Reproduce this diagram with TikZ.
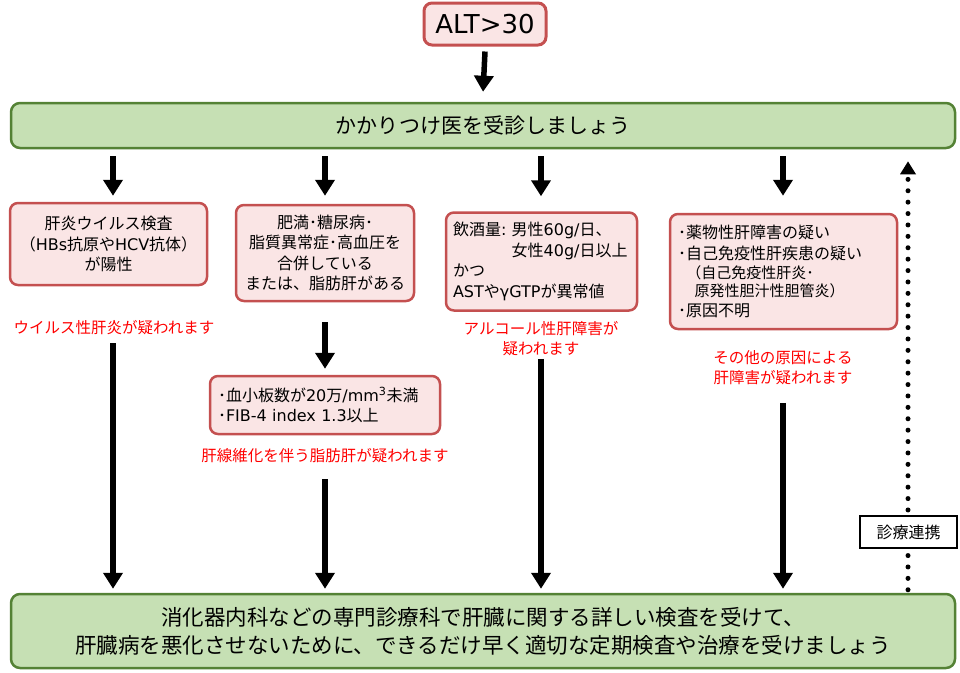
\documentclass[tikz,border=0pt]{standalone}
\usepackage{fontspec}
\setmainfont{Noto Sans CJK JP}
\newfontfamily\latfont{DejaVu Sans}
\newcommand{\lt}[1]{{\latfont #1}}
\usetikzlibrary{arrows.meta,calc}
\definecolor{pinkfill}{RGB}{250,229,229}
\definecolor{pinkline}{RGB}{196,80,80}
\definecolor{greenfill}{RGB}{198,224,180}
\definecolor{greenline}{RGB}{84,130,53}
\definecolor{redtext}{RGB}{255,0,0}
\begin{document}
\begin{tikzpicture}[x=1pt,y=-1pt,
  pinkbox/.style={draw=pinkline,fill=pinkfill,line width=2.5pt,rounded corners=8pt,inner ysep=0pt,inner xsep=7pt,
     font=\fontsize{16}{20.5}\selectfont},
  greenbox/.style={draw=greenline,fill=greenfill,line width=2.5pt,rounded corners=9pt,inner sep=0pt,align=center},
  redlabel/.style={text=redtext,inner sep=0pt,align=center,font=\fontsize{15.5}{20}\selectfont},
  arr/.style={line width=5.5pt,-{Triangle[width=19pt,length=16pt]}},
  dotarr/.style={line width=5pt,line cap=round,dash pattern=on 0pt off 11.4pt,-{Triangle[width=15pt,length=13pt]}},
  linkbox/.style={draw=black,fill=white,line width=1.2pt,inner sep=0pt,minimum width=97pt,minimum height=32pt,
     font=\fontsize{16}{18}\selectfont}
]
\useasboundingbox (0,0) rectangle (960,672);

% column positions
\coordinate (c1) at (113,0);
\coordinate (c2) at (325,0);
\coordinate (c3) at (541,0);
\coordinate (c4) at (783,0);
\coordinate (c5) at (908,0);

% nodes
\node[pinkbox,line width=3pt,minimum width=122pt,minimum height=42pt,align=center,
      font=\latfont\fontsize{26}{30}\selectfont] (alt) at (485,24) {ALT>30};
\node[greenbox,minimum width=944pt,minimum height=45pt,font=\fontsize{21}{24}\selectfont] (top) at (483,125.5)
  {かかりつけ医を受診しましょう};
\node[greenbox,minimum width=944pt,minimum height=74pt,font=\fontsize{21.5}{28}\selectfont] (bottom) at (483,631)
  {消化器内科などの専門診療科で肝臓に関する詳しい検査を受けて、\\
   肝臓病を悪化させないために、できるだけ早く適切な定期検査や治療を受けましょう};

\node[pinkbox,text width=183pt,minimum height=82pt,align=center] (b1) at (108.5,244)
  {肝炎ウイルス検査\\（\lt{HBs}抗原や\lt{HCV}抗体）\\が陽性};
\node[pinkbox,text width=164pt,minimum height=96pt,align=center] (b2) at (325,253)
  {肥満･糖尿病･\\脂質異常症･高血圧を\\合併している\\または、脂肪肝がある};
\node[pinkbox,text width=214pt,inner xsep=8pt,minimum height=58pt,align=left] (b3) at (325,405)
  {･血小板数が\lt{20}万\lt{/mm\textsuperscript{3}}未満\\･\lt{FIB-4 index 1.3}以上};
\node[pinkbox,text width=177pt,minimum height=98pt,align=left] (b4) at (541.5,261.5)
  {飲酒量\lt{:~}男性\lt{60g/}日、\\\phantom{飲酒量\lt{:~}}女性\lt{40g/}日以上\\かつ\\\lt{AST}や\lt{γGTP}が異常値};
\node[pinkbox,text width=211pt,inner xsep=8pt,minimum height=115pt,align=left] (b5) at (783.5,271.5)
  {･薬物性肝障害の疑い\\･自己免疫性肝疾患の疑い\\[-1.5pt]
   {\fontsize{15}{18}\selectfont\hspace*{0.55em}（自己免疫性肝炎･}\\[-2pt]
   {\fontsize{15}{18}\selectfont\hspace*{1.1em}原発性胆汁性胆管炎）}\\[-1pt]･原因不明};

\node[redlabel] (r1) at (114,328) {ウイルス性肝炎が疑われます};
\node[redlabel] (r2) at (325,456) {肝線維化を伴う脂肪肝が疑われます};
\node[redlabel] (r3) at (541,338.5) {アルコール性肝障害が\\疑われます};
\node[redlabel] (r4) at (783,367.5) {その他の原因による\\肝障害が疑われます};

% arrows
\draw[arr,shorten >=1pt] (alt.south) ++(0,5) -- ($(top.north)+(0,-9)$);
\draw[arr,shorten <=7pt,shorten >=6pt] (top.south -| c1) -- (b1.north -| c1);
\draw[arr,shorten <=7pt,shorten >=8pt] (top.south -| c2) -- (b2.north -| c2);
\draw[arr,shorten <=7pt,shorten >=15pt] (top.south -| c3) -- (b4.north -| c3);
\draw[arr,shorten <=7pt,shorten >=17pt] (top.south -| c4) -- (b5.north -| c4);

\draw[arr,shorten <=20pt,shorten >=6pt] (b2.south -| c2) -- (b3.north -| c2);

\draw[arr,shorten <=8pt,shorten >=4pt] (r1.south -| c1) -- (bottom.north -| c1);
\draw[arr,shorten <=16pt,shorten >=4pt] (r2.south -| c2) -- (bottom.north -| c2);
\draw[arr,shorten <=3pt,shorten >=4pt] (r3.south -| c3) -- (bottom.north -| c3);
\draw[arr,shorten <=18pt,shorten >=4pt] (r4.south -| c4) -- (bottom.north -| c4);

% dotted link arrow
\draw[dotarr,shorten <=3pt,shorten >=12pt] (bottom.north -| c5) -- (top.south -| c5);
\node[linkbox] (link) at (908.5,532) {診療連携};
\end{tikzpicture}
\end{document}
